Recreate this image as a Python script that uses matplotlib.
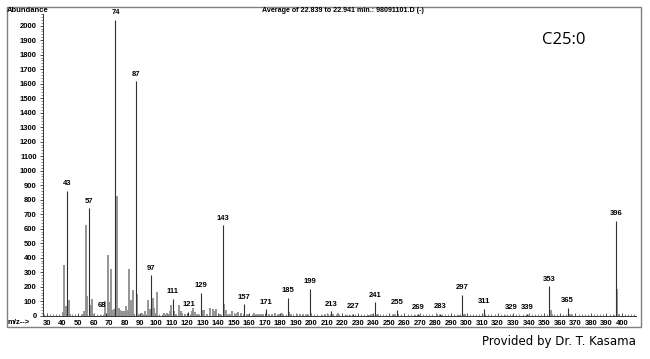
import numpy as np
import matplotlib.pyplot as plt
from matplotlib.patches import Rectangle
from matplotlib.ticker import MultipleLocator

# labelled peaks (m/z, abundance)
mz_major = [43, 57, 68, 74, 87, 97, 111, 121, 129, 143, 157, 171, 185, 199,
            213, 227, 241, 255, 269, 283, 297, 311, 329, 339, 353, 365, 396]
ab_major = [860, 740, 20, 2040, 1615, 278, 118, 28, 158, 625, 80, 45, 125, 185,
            30, 12, 92, 40, 10, 14, 145, 48, 6, 10, 205, 55, 655]

# unlabelled (minor) peaks
mz_minor = [40, 41, 42, 44, 45, 53, 54, 55, 56, 58, 59, 60, 65, 67, 69, 70, 71,
            72, 73, 75, 76, 77, 78, 79, 80, 81, 82, 83, 84, 85, 86, 88, 89, 91,
            93, 95, 96, 98, 99, 100, 101, 105, 107, 108, 109, 110, 112, 113,
            115, 116, 117, 119, 123, 124, 125, 127, 130, 131, 133, 135, 137,
            138, 139, 141, 144, 145, 147, 149, 151, 152, 153, 155, 159, 163,
            165, 167, 169, 173, 175, 177, 179, 181, 186, 187, 191, 193, 195,
            197, 200, 207, 209, 211, 214, 217, 223, 225, 237, 239, 242, 243,
            253, 256, 267, 270, 281, 284, 295, 298, 299, 312, 325, 340, 354,
            355, 366, 367, 395, 397, 398]
ab_minor = [25, 347, 67, 108, 15, 10, 30, 623, 135, 75, 115, 10, 8, 100, 418, 95,
            322, 40, 45, 826, 55, 40, 35, 35, 35, 65, 40, 322, 105, 177, 15, 150,
            15, 20, 30, 105, 45, 125, 50, 20, 162, 20, 20, 15, 35, 74, 30, 10,
            72, 35, 20, 15, 30, 55, 25, 10, 38, 40, 15, 50, 45, 30, 45, 12, 80,
            40, 15, 30, 10, 20, 25, 20, 10, 20, 10, 15, 12, 10, 15, 18, 15, 22,
            25, 10, 10, 12, 10, 10, 15, 8, 10, 15, 10, 22, 8, 8, 8, 10, 8, 15,
            15, 10, 8, 8, 10, 8, 8, 15, 10, 8, 6, 8, 40, 10, 10, 12, 8, 184, 15]

xticks = np.arange(30, 410, 10)
yticks = np.arange(0, 2100, 100)

W, H = 650, 359
fig = plt.figure(figsize=(6.5, 3.59), dpi=100)
ax = fig.add_axes([43 / W, (H - 316) / H, 593 / W, 302 / H])

ax.vlines(mz_minor, 0, ab_minor, color='#8c8c8c', lw=1.3)
ax.vlines(mz_major, 0, ab_major, color='#303030', lw=0.8)

for m, a in zip(mz_major, ab_major):
    dx = -3 if m == 68 else 0
    ax.annotate(str(m), (m, a), xytext=(dx, 2.5), textcoords='offset points',
                ha='center', va='bottom', fontsize=5.5, fontweight='bold',
                family='Liberation Sans')

ax.set_xlim(27.4, 409)
ax.set_ylim(-2, 2080)
ax.set_xticks(xticks)
ax.set_yticks(yticks)
ax.xaxis.set_minor_locator(MultipleLocator(2))
ax.yaxis.set_minor_locator(MultipleLocator(20))
ax.tick_params(axis='both', which='major', labelsize=5.5, length=2.5, width=0.6,
               pad=2, color='#333333')
ax.tick_params(axis='x', which='major', direction='in', pad=3)
ax.tick_params(axis='both', which='minor', length=1.2, width=0.5, color='#555555')
ax.tick_params(axis='x', which='minor', direction='in')
for lbl in ax.get_xticklabels() + ax.get_yticklabels():
    lbl.set_fontweight('bold')
    lbl.set_family('Liberation Sans')

for s in ['top', 'right']:
    ax.spines[s].set_visible(False)
for s in ['left', 'bottom']:
    ax.spines[s].set_linewidth(0.7)
    ax.spines[s].set_color('#333333')

# outer frame
fig.patches.append(Rectangle((7 / W, (H - 327) / H), 634 / W, 320 / H,
                             transform=fig.transFigure, fill=False,
                             edgecolor='#808080', lw=1.0))

fig.text(7 / W, (H - 10) / H, 'Abundance', fontsize=5.5, fontweight='bold',
         family='Liberation Sans', va='center', ha='left')
fig.text(343 / W, (H - 10) / H,
         'Average of 22.839 to 22.941 min.: 98091101.D (-)', fontsize=5.1,
         fontweight='bold', family='Liberation Sans', va='center', ha='center')
fig.text(8 / W, (H - 323) / H, 'm/z-->', fontsize=5.5, fontweight='bold',
         family='Liberation Sans', va='center', ha='left')
fig.text(564 / W, (H - 40) / H, 'C25:0', fontsize=12, family='Open Sans',
         va='center', ha='center')
fig.text(636 / W, (H - 342) / H, 'Provided by Dr. T. Kasama', fontsize=8.5,
         family='DejaVu Sans', va='center', ha='right')

fig.savefig('out.png', dpi=100)
